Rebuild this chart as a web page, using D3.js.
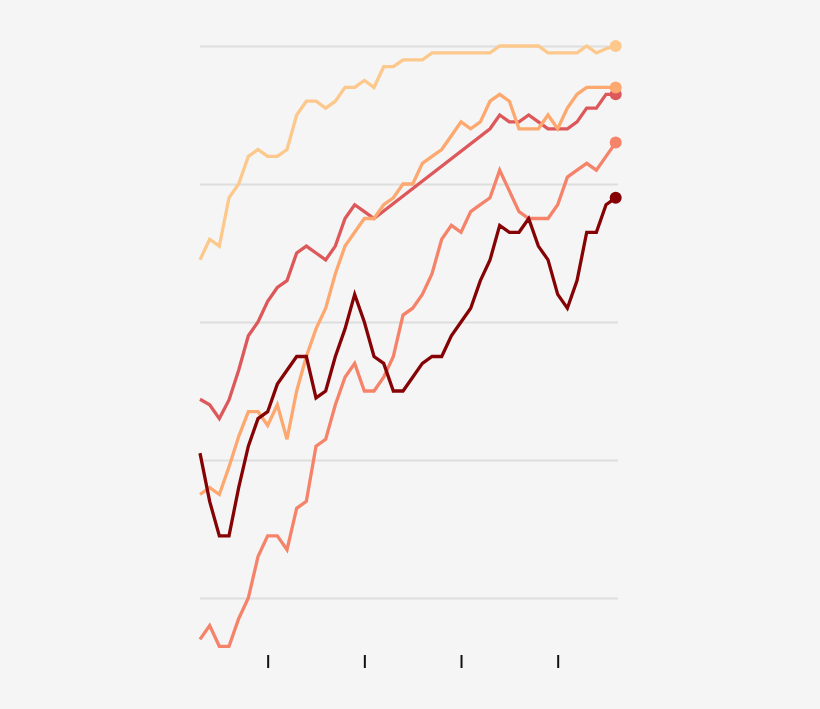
<!DOCTYPE html>
<html>
<head>
<meta charset="utf-8">
<script src="https://cdn.jsdelivr.net/npm/d3@7"></script>
<style>
  html, body { margin: 0; padding: 0; background: #f5f5f5; }
  .grid line { stroke: #dedede; stroke-width: 2; }
  .xaxis line { stroke: #111; stroke-width: 2; }
</style>
</head>
<body>
<div id="chart"></div>
<script>
// years on the x axis (one point per year)
var years = d3.range(1973, 2017);
var tickYears = [1980, 1990, 2000, 2010];
var gridValues = [20, 40, 60, 80, 100];

// series values (null = no data, line just joins across)
var seriesA = [69,72,71,78,80,84,85,84,84,85,90,92,92,91,92,94,94,95,94,97,97,98,98,98,99,99,99,99,99,99,99,100,100,100,100,100,99,99,99,99,100,99,99.6,100];
var seriesB = [48.8,48,46,48.7,53,58,60,63,65,66,70,71,70,69,71,75,77,76,75,null,null,null,null,null,null,null,null,null,null,null,88,90,89,89,90,89,88,88,88,89,91,91,93,93];
var seriesC = [35,36,35,39,43.4,47,47,45,48,43,50,55,59,62,67,71,73,75,75,77,78,80,80,83,84,85,87,89,88,89,92,93,92,88,88,88,90,88,91,93,94,94,94,94];
var seriesD = [14,16,13,13,17,20,26,29,29,27,33,34,42,43,48,52,54,50,50,52,55,61,62,64,67,72,74,73,76,77,78,82,79,76,75,75,75,77,81,82,83,82,84,86];
var seriesE = [41,34,29,29,36,42,46,47,51,53,55,55,49,50,55,59,64,60,55,54,50,50,52,54,55,55,58,60,62,66,69,74,73,73,75,71,69,64,62,66,73,73,77,78];

var seriesNames = ["A", "B", "C", "D", "E"];
var seriesColors = ["#fdc88c", "#dd585a", "#fca86f", "#f5836a", "#860305"];

var allSeries = [seriesA, seriesB, seriesC, seriesD, seriesE].map(function(vals, i) {
  return {
    name: seriesNames[i],
    color: seriesColors[i],
    values: years.map(function(y, j) { return {year: y, value: vals[j]}; })
      .filter(function(d) { return d.value != null; })
  };
});

var width = 820, height = 709;

var svg = d3.select("#chart")
  .append("svg")
    .attr("width", width)
    .attr("height", height);

var x = d3.scaleLinear()
  .domain([1973, 2016])
  .range([200, 615.7]);

var y = d3.scaleLinear()
  .domain([20, 100])
  .range([598, 46]);

// horizontal gridlines
svg.append("g")
  .attr("class", "grid")
  .attr("transform", "translate(200,0)")
  .call(d3.axisLeft(y).tickValues(gridValues).tickSize(-418).tickFormat(""))
  .call(function(g) { g.select(".domain").remove(); });

// year ticks under the chart
svg.append("g")
  .attr("class", "xaxis")
  .attr("transform", "translate(0,655)")
  .call(d3.axisBottom(x).tickValues(tickYears).tickSize(13).tickFormat(""))
  .call(function(g) { g.select(".domain").remove(); });

var line = d3.line()
  .x(function(d) { return x(d.year); })
  .y(function(d) { return y(d.value); });

svg.selectAll("myLines")
  .data(allSeries)
  .enter()
  .append("path")
    .attr("d", function(d) { return line(d.values); })
    .attr("stroke", function(d) { return d.color; })
    .style("stroke-width", 3.3)
    .style("stroke-linejoin", "miter")
    .style("fill", "none");

// dot at the end of each line
svg.selectAll("myDots")
  .data(allSeries)
  .enter()
  .append("circle")
    .attr("cx", function(d) { return x(d.values[d.values.length - 1].year); })
    .attr("cy", function(d) { return y(d.values[d.values.length - 1].value); })
    .attr("r", 6)
    .style("fill", function(d) { return d.color; });
</script>
</body>
</html>
